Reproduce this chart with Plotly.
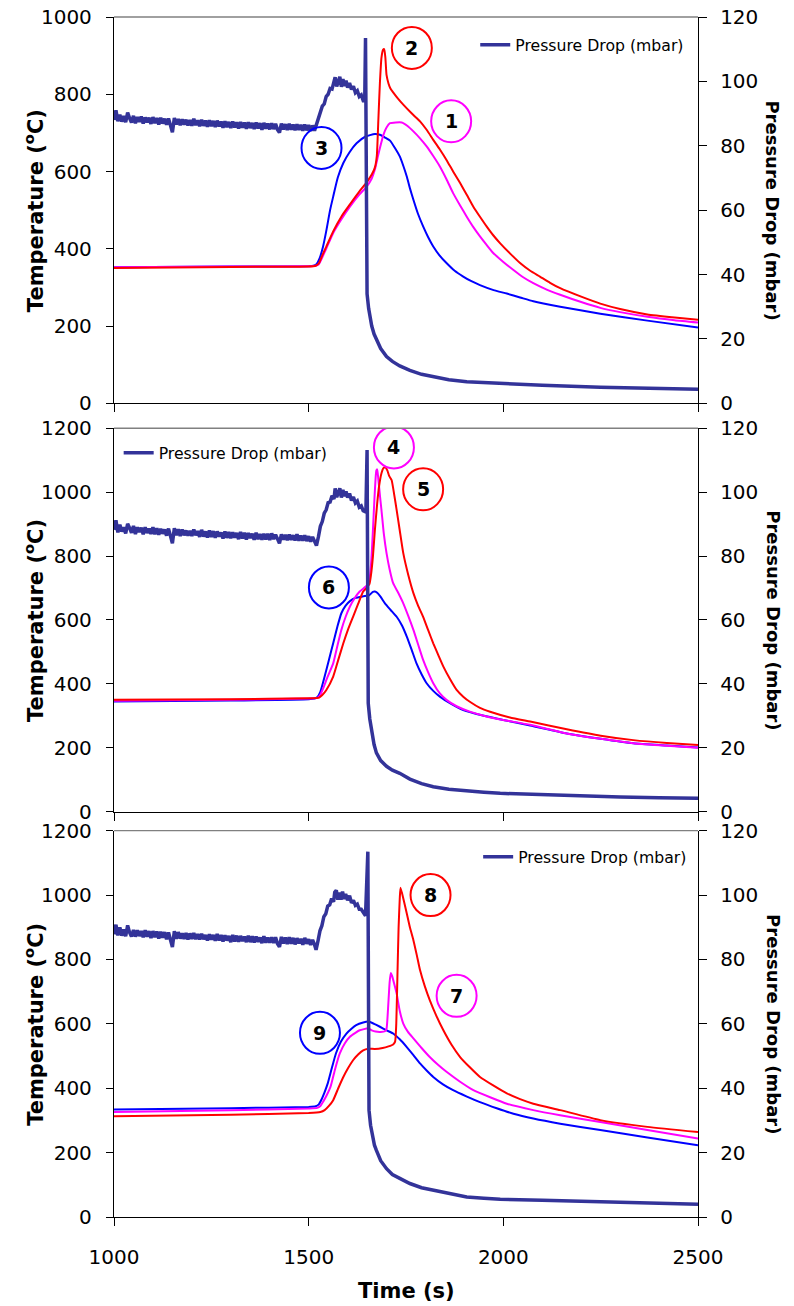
import plotly.graph_objects as go

# ---------------- DATA ----------------
x_ticks = [1000, 1500, 2000, 2500]
noise_start = 1000   # first sample of the 5-s sampled pressure baselines
noise_step = 5

# ---- Panel 1 ----
p1_press_base = [88.0, 91.0, 87.6, 89.6, 87.5, 89.2, 87.3, 90.3, 88.6, 87.2,
                 89.3, 87.0, 88.9, 87.4, 89.1, 86.9, 88.8, 87.3, 88.7, 86.8,
                 88.9, 87.0, 88.6, 86.6, 88.7, 86.9, 88.4, 86.5, 88.5, 85.9,
                 84.2, 88.6, 86.6, 88.3, 86.4, 88.2, 86.6, 88.1, 86.3, 88.0,
                 86.2, 88.4, 86.4, 87.9, 86.1, 88.1, 86.2, 87.8, 85.9, 87.9,
                 86.1, 87.7, 85.8, 87.8, 86.0, 87.5, 85.6, 87.6, 85.8, 87.4,
                 85.5, 87.5, 85.7, 87.3, 85.4, 87.4, 85.6, 87.2, 85.3, 87.3,
                 85.5, 87.1, 85.2, 87.2, 85.4, 87.0, 85.0, 87.1, 85.3, 86.9,
                 85.1, 87.0, 85.2, 86.8, 85.0, 84.1, 86.9, 85.1, 86.7, 84.9,
                 86.8, 85.0, 86.6, 84.8, 86.7, 84.9, 86.5, 84.7, 86.6, 84.8,
                 86.4, 84.6, 86.3, 84.7]
p1_press_t = [1520, 1525, 1530, 1535, 1540, 1545, 1550, 1555, 1560, 1565, 1568, 1572, 1576, 1580, 1584, 1588, 1592, 1596, 1600, 1605, 1610, 1615, 1620, 1625, 1630, 1635, 1640, 1644, 1646, 1648, 1650, 1654, 1657, 1662, 1668, 1674, 1685, 1700, 1715, 1734, 1760, 1790, 1820, 1860, 1906, 1950, 1992, 2100, 2249, 2400, 2500]
p1_press_v = [86.6, 88.6, 90.2, 92.3, 93.0, 95.3, 96.0, 97.8, 97.6, 99.5, 101.3, 98.4, 100.2, 101.4, 98.3, 100.7, 98.6, 100.2, 98.1, 99.5, 97.5, 98.5, 96.5, 97.1, 95.3, 95.8, 94.1, 94.2, 113.5, 48, 34, 29.5, 27, 24, 21.5, 19.7, 17, 14.5, 13, 11.6, 10.2, 9.0, 8.2, 7.3, 6.7, 6.4, 6.2, 5.6, 5.0, 4.6, 4.35]

p1_s1_t = [1000, 1300, 1500, 1518, 1526, 1535, 1545, 1563, 1585, 1606, 1630, 1649, 1662, 1670, 1678, 1683, 1692, 1700, 1709, 1739, 1754, 1769, 1786, 1803, 1820, 1837, 1854, 1871, 1889, 1906, 1923, 1940, 1957, 1974, 2000, 2026, 2050, 2077, 2110, 2146, 2200, 2249, 2300, 2370, 2440, 2500]
p1_s1_v = [352, 354, 355, 356, 360, 378, 400, 441, 478, 509, 540, 561, 582, 605, 640, 661, 695, 714, 725, 727, 718, 704, 686, 665, 640, 613, 580, 544, 512, 483, 456, 432, 410, 389, 366, 345, 327, 311, 295, 281, 262, 247, 236, 224, 215, 209]

p1_s2_t = [1000, 1300, 1500, 1518, 1526, 1535, 1545, 1563, 1585, 1606, 1630, 1649, 1662, 1670, 1675, 1679, 1683, 1687, 1691, 1694, 1697, 1700, 1705, 1710, 1717, 1730, 1743, 1765, 1786, 1803, 1820, 1837, 1854, 1871, 1889, 1906, 1923, 1940, 1957, 1974, 1992, 2017, 2043, 2069, 2094, 2120, 2146, 2200, 2249, 2300, 2370, 2440, 2500]
p1_s2_v = [350, 353, 354, 356, 362, 383, 405, 445, 485, 515, 548, 572, 592, 610, 640, 734, 830, 895, 915, 917, 895, 850, 828, 815, 805, 788, 773, 750, 730, 708, 682, 657, 630, 600, 570, 540, 509, 483, 458, 435, 414, 388, 363, 343, 328, 312, 298, 276, 258, 244, 230, 222, 216]

p1_s3_t = [1000, 1300, 1500, 1512, 1520, 1528, 1537, 1545, 1555, 1563, 1575, 1589, 1605, 1623, 1645, 1670, 1683, 1696, 1709, 1722, 1734, 1743, 1752, 1760, 1769, 1781, 1794, 1807, 1820, 1836, 1854, 1875, 1897, 1918, 1940, 1975, 2009, 2043, 2077, 2146, 2249, 2370, 2500]
p1_s3_v = [352, 354, 355, 356, 360, 375, 406, 445, 500, 535, 585, 622, 650, 673, 690, 697, 695, 688, 680, 660, 639, 615, 587, 557, 527, 490, 458, 430, 406, 383, 363, 343, 328, 316, 306, 293, 284, 274, 264, 250, 232, 214, 196]

# ---- Panel 2 ----
p2_press_base = [88.2, 91.2, 87.4, 89.8, 87.7, 89.0, 87.1, 90.1, 88.8, 87.3,
                 89.4, 86.9, 89.0, 87.5, 88.9, 86.8, 89.0, 87.2, 88.6, 86.9,
                 89.0, 86.8, 88.7, 86.7, 88.5, 87.0, 88.3, 86.4, 88.6, 85.8,
                 84.0, 88.7, 86.5, 88.4, 86.3, 88.3, 86.5, 88.0, 86.4, 87.9,
                 86.3, 88.3, 86.5, 87.8, 86.0, 88.2, 86.1, 87.7, 85.8, 88.0,
                 86.0, 87.8, 85.7, 87.7, 86.1, 87.4, 85.5, 87.7, 85.7, 87.5,
                 85.6, 87.4, 85.8, 87.2, 85.3, 87.5, 85.5, 87.3, 85.2, 87.2,
                 85.6, 87.0, 85.1, 87.3, 85.3, 86.9, 85.1, 87.0, 85.2, 87.0,
                 85.0, 87.1, 85.3, 86.7, 85.1, 84.0, 86.8, 85.2, 86.6, 85.0,
                 86.7, 85.1, 86.5, 84.9, 86.8, 84.8, 86.4, 84.8, 86.5, 84.7,
                 86.2, 84.5, 86.0, 84.4]
p2_press_t = [1520, 1525, 1530, 1535, 1540, 1545, 1550, 1555, 1560, 1565, 1568, 1572, 1576, 1580, 1584, 1588, 1592, 1596, 1600, 1605, 1610, 1615, 1620, 1625, 1630, 1635, 1640, 1647, 1650, 1651, 1653, 1657, 1662, 1668, 1674, 1685, 1700, 1715, 1734, 1760, 1790, 1820, 1860, 1900, 1950, 1992, 2100, 2200, 2300, 2400, 2500]
p2_press_v = [83.3, 86.0, 89.3, 90.8, 93.4, 94.5, 96.7, 96.9, 98.9, 97.8, 101.2, 98.4, 100.1, 101.2, 98.3, 100.7, 98.7, 100.2, 98.3, 99.6, 97.4, 98.5, 96.6, 97.2, 95.3, 95.7, 94.2, 93.8, 113.2, 50, 34, 29, 24.5, 21, 18.4, 16, 14.2, 13, 12, 10.2, 8.8, 7.8, 7.0, 6.5, 6.1, 5.75, 5.3, 4.9, 4.6, 4.4, 4.2]

p2_s4_t = [1000, 1300, 1500, 1522, 1530, 1538, 1548, 1563, 1574, 1584, 1595, 1606, 1618, 1631, 1645, 1652, 1657, 1661, 1665, 1669, 1672, 1674, 1676, 1679, 1683, 1687, 1693, 1700, 1708, 1717, 1730, 1743, 1756, 1769, 1782, 1794, 1807, 1820, 1837, 1854, 1880, 1914, 1957, 2000, 2069, 2163, 2250, 2334, 2420, 2500]
p2_s4_v = [347, 350, 354, 356, 366, 388, 420, 464, 520, 569, 610, 642, 668, 689, 703, 712, 735, 788, 880, 980, 1045, 1068, 1072, 1040, 990, 944, 870, 809, 758, 715, 685, 652, 612, 569, 520, 475, 436, 402, 370, 350, 330, 313, 298, 287, 272, 245, 228, 214, 206, 200]

p2_s5_t = [1000, 1300, 1500, 1527, 1535, 1545, 1563, 1576, 1589, 1601, 1614, 1627, 1640, 1650, 1656, 1660, 1665, 1670, 1676, 1681, 1687, 1692, 1697, 1702, 1707, 1713, 1720, 1726, 1734, 1743, 1756, 1769, 1781, 1794, 1807, 1820, 1833, 1846, 1863, 1880, 1897, 1914, 1940, 1966, 2017, 2069, 2163, 2250, 2334, 2420, 2500]
p2_s5_v = [350, 352, 355, 357, 365, 380, 423, 475, 527, 570, 610, 650, 689, 702, 712, 740, 798, 880, 965, 1020, 1059, 1075, 1078, 1068, 1050, 1038, 990, 944, 880, 809, 740, 684, 645, 610, 568, 527, 490, 454, 415, 381, 360, 344, 325, 313, 295, 282, 258, 238, 224, 215, 209]

p2_s6_t = [1000, 1300, 1500, 1515, 1522, 1530, 1541, 1552, 1563, 1574, 1584, 1595, 1606, 1620, 1640, 1655, 1665, 1670, 1676, 1685, 1696, 1710, 1726, 1740, 1752, 1765, 1777, 1790, 1803, 1820, 1837, 1865, 1897, 1950, 2000, 2069, 2163, 2250, 2334, 2420, 2500]
p2_s6_v = [345, 348, 352, 354, 358, 375, 423, 475, 527, 580, 621, 645, 659, 669, 674, 677, 688, 689, 685, 672, 652, 632, 610, 582, 548, 505, 464, 430, 402, 378, 360, 338, 318, 300, 287, 270, 245, 228, 214, 207, 201]

# ---- Panel 3 ----
p3_press_base = [87.8, 90.8, 87.5, 90.0, 87.4, 89.3, 87.2, 90.6, 88.4, 87.1,
                 89.2, 87.1, 89.1, 87.3, 88.8, 86.9, 89.1, 87.1, 88.8, 86.7,
                 88.8, 86.9, 88.7, 86.5, 88.6, 86.8, 88.5, 86.3, 88.4, 85.7,
                 83.9, 88.8, 86.4, 88.5, 86.5, 88.1, 86.4, 88.2, 86.2, 88.1,
                 86.4, 88.2, 86.3, 87.9, 86.2, 88.0, 86.3, 87.6, 85.9, 87.8,
                 86.2, 87.6, 85.8, 87.9, 85.9, 87.6, 85.6, 87.5, 85.9, 87.3,
                 85.4, 87.6, 85.6, 87.4, 85.5, 87.3, 85.7, 87.1, 85.4, 87.4,
                 85.4, 87.2, 85.3, 87.1, 85.5, 86.8, 85.1, 87.2, 85.2, 86.8,
                 85.2, 86.9, 85.1, 86.9, 84.9, 83.9, 87.0, 85.0, 86.8, 84.8,
                 86.9, 84.9, 86.7, 84.7, 86.6, 85.0, 86.4, 84.6, 86.7, 84.9,
                 86.3, 84.5, 86.1, 84.6]
p3_press_t = [1519, 1524, 1529, 1534, 1539, 1544, 1549, 1554, 1559, 1564, 1567, 1571, 1575, 1579, 1583, 1587, 1591, 1595, 1600, 1605, 1610, 1615, 1620, 1625, 1630, 1635, 1640, 1646, 1652, 1653, 1655, 1659, 1664, 1669, 1674, 1685, 1700, 1715, 1734, 1760, 1790, 1820, 1860, 1906, 1950, 1992, 2100, 2249, 2400, 2500]
p3_press_v = [83.0, 85.8, 88.9, 90.5, 93.3, 94.2, 96.6, 97.0, 98.9, 97.9, 100.9, 101.5, 98.6, 100.8, 98.6, 101.1, 98.8, 100.3, 98.4, 99.8, 97.6, 98.4, 96.8, 97.2, 95.6, 95.6, 94.5, 93.6, 113.5, 50, 33.2, 28.5, 24.5, 22.3, 20.7, 17.5, 15, 13.2, 12, 10.4, 9.1, 8.3, 7.2, 6.2, 5.8, 5.5, 5.2, 4.7, 4.2, 3.95]

p3_s7_t = [1000, 1300, 1500, 1522, 1530, 1538, 1545, 1556, 1568, 1580, 1593, 1606, 1620, 1631, 1653, 1662, 1672, 1685, 1696, 1700, 1704, 1708, 1711, 1714, 1719, 1726, 1734, 1743, 1755, 1769, 1790, 1811, 1833, 1854, 1888, 1923, 1966, 2009, 2077, 2146, 2249, 2370, 2500]
p3_s7_v = [326, 332, 337, 339, 345, 360, 375, 404, 460, 508, 540, 560, 572, 580, 586, 580, 576, 575, 577, 585, 650, 730, 758, 750, 728, 694, 640, 601, 575, 555, 525, 497, 472, 451, 421, 394, 372, 352, 332, 316, 295, 270, 244]

p3_s8_t = [1000, 1300, 1500, 1530, 1541, 1552, 1563, 1576, 1589, 1601, 1614, 1627, 1640, 1653, 1670, 1690, 1705, 1717, 1722, 1725, 1728, 1731, 1734, 1736, 1744, 1752, 1760, 1769, 1778, 1786, 1798, 1811, 1828, 1846, 1867, 1889, 1914, 1940, 1975, 2009, 2043, 2077, 2146, 2249, 2370, 2500]
p3_s8_v = [313, 318, 323, 326, 332, 345, 363, 400, 435, 462, 487, 505, 518, 523, 522, 525, 530, 536, 545, 600, 750, 900, 990, 1023, 985, 943, 900, 860, 812, 767, 718, 674, 625, 580, 535, 497, 465, 435, 408, 384, 366, 352, 332, 301, 280, 264]

p3_s9_t = [1000, 1300, 1500, 1518, 1526, 1533, 1540, 1549, 1560, 1570, 1583, 1597, 1610, 1622, 1640, 1653, 1668, 1683, 1700, 1717, 1734, 1752, 1769, 1786, 1803, 1820, 1845, 1871, 1905, 1940, 1983, 2026, 2077, 2146, 2249, 2370, 2500]
p3_s9_v = [334, 338, 342, 344, 350, 365, 385, 415, 465, 508, 545, 570, 585, 596, 604, 607, 600, 591, 580, 570, 552, 528, 503, 477, 455, 435, 412, 394, 375, 357, 338, 321, 306, 290, 270, 247, 223]

# Circled labels: (label, time, temperature, colour)
p1_labels = [("1", 1866, 730, "#FF00FF"), ("2", 1765, 920, "#FF0000"), ("3", 1533, 661, "#0000FF")]
p2_labels = [("4", 1719, 1140, "#FF00FF"), ("5", 1794, 1009, "#FF0000"), ("6", 1552, 702, "#0000FF")]
p3_labels = [("7", 1880, 687, "#FF00FF"), ("8", 1813, 1000, "#FF0000"), ("9", 1529, 572, "#0000FF")]


def press_series(base, t_rest, v_rest):
    t = [noise_start + noise_step * i for i in range(len(base))] + t_rest
    return t, base + v_rest


# ---------------- FIGURE ----------------
PRESS = "#333399"
FONT = "DejaVu Sans"
fig = go.Figure()

panels = [
    dict(xa="x", ya="y", pa="y2", legend="legend",
         press=press_series(p1_press_base, p1_press_t, p1_press_v),
         temps=[(p1_s3_t, p1_s3_v, "#0000FF"), (p1_s1_t, p1_s1_v, "#FF00FF"), (p1_s2_t, p1_s2_v, "#FF0000")],
         labels=p1_labels),
    dict(xa="x2", ya="y3", pa="y4", legend="legend2",
         press=press_series(p2_press_base, p2_press_t, p2_press_v),
         temps=[(p2_s6_t, p2_s6_v, "#0000FF"), (p2_s4_t, p2_s4_v, "#FF00FF"), (p2_s5_t, p2_s5_v, "#FF0000")],
         labels=p2_labels),
    dict(xa="x3", ya="y5", pa="y6", legend="legend3",
         press=press_series(p3_press_base, p3_press_t, p3_press_v),
         temps=[(p3_s9_t, p3_s9_v, "#0000FF"), (p3_s7_t, p3_s7_v, "#FF00FF"), (p3_s8_t, p3_s8_v, "#FF0000")],
         labels=p3_labels),
]

shapes = []
annotations = []
for p in panels:
    for t, v, c in p["temps"]:
        fig.add_trace(go.Scatter(x=t, y=v, mode="lines",
                                 line=dict(color=c, width=2, shape="spline", smoothing=0.5),
                                 xaxis=p["xa"], yaxis=p["ya"], showlegend=False, hoverinfo="skip"))
    fig.add_trace(go.Scatter(x=p["press"][0], y=p["press"][1], mode="lines",
                             line=dict(color=PRESS, width=3.5),
                             name="Pressure Drop (mbar)", legend=p["legend"],
                             xaxis=p["xa"], yaxis=p["pa"], showlegend=True))
    for lab, t, T, c in p["labels"]:
        shapes.append(dict(type="circle", xref=p["xa"], yref=p["ya"],
                           xsizemode="pixel", ysizemode="pixel", xanchor=t, yanchor=T,
                           x0=-20, x1=20, y0=-21, y1=21,
                           line=dict(color=c, width=2), fillcolor="rgba(0,0,0,0)"))
        annotations.append(dict(text="<b>%s</b>" % lab, x=t, y=T, xref=p["xa"], yref=p["ya"],
                                showarrow=False, font=dict(family=FONT, size=19, color="black")))

domains = [(0.6781, 1.0), (0.33775, 0.6573), (0.0, 0.3219)]
tranges = [[0, 1000], [0, 1200], [0, 1200]]

axis_common = dict(showgrid=False, zeroline=False, showline=True, linecolor="black", linewidth=1.3,
                   ticks="outside", tickcolor="black", tickwidth=1.3, automargin=False,
                   ticklabeloverflow="allow",
                   tickfont=dict(family=FONT, size=20, color="black"))

# page body adds an 8 px offset, so the figure is 8 px smaller on each axis
layout = dict(width=786, height=1298, margin=dict(l=106, r=96, t=9, b=89, autoexpand=False),
              plot_bgcolor="white", paper_bgcolor="white",
              font=dict(family=FONT, color="black"))

for i, (dom, tr) in enumerate(zip(domains, tranges)):
    xn = "xaxis" if i == 0 else "xaxis%d" % (i + 1)
    yt = 2 * i + 1
    yp = 2 * i + 2
    ytn = "yaxis" if yt == 1 else "yaxis%d" % yt
    ypn = "yaxis%d" % yp
    ytref = "y" if yt == 1 else "y%d" % yt
    xref = "x" if i == 0 else "x%d" % (i + 1)
    layout[xn] = dict(axis_common, domain=[0, 1], anchor=ytref, range=[1000, 2500],
                      tickvals=x_ticks, ticklen=8, showticklabels=(i == 2), ticklabelstandoff=14)
    layout[ytn] = dict(axis_common, domain=list(dom), anchor=xref, range=tr, dtick=200,
                       ticklen=7, ticklabelstandoff=10)
    layout[ypn] = dict(axis_common, overlaying=ytref, side="right", anchor=xref, range=[0, 120],
                       dtick=20, ticklen=8, ticklabelstandoff=9)
    shapes.append(dict(type="line", xref="paper", yref="paper", x0=0, x1=1, y0=dom[1], y1=dom[1],
                       line=dict(color="#808080", width=1.3)))
    ymid = (dom[0] + dom[1]) / 2
    annotations.append(dict(text="<b>Temperature (<sup>o</sup>C)</b>", textangle=-90,
                            xref="paper", yref="paper", x=-0.137, y=ymid, showarrow=False,
                            xanchor="center", yanchor="middle",
                            font=dict(family=FONT, size=21, color="black")))
    annotations.append(dict(text="<b>Pressure Drop (mbar)</b>", textangle=90,
                            xref="paper", yref="paper", x=1.128, y=ymid, showarrow=False,
                            xanchor="center", yanchor="middle",
                            font=dict(family=FONT, size=18, color="black")))

annotations.append(dict(text="<b>Time (s)</b>", xref="paper", yref="paper", x=0.5, y=-0.0617,
                        showarrow=False, xanchor="center", yanchor="middle",
                        font=dict(family=FONT, size=21, color="black")))

leg_common = dict(bgcolor="rgba(0,0,0,0)", font=dict(family=FONT, size=15.7, color="black"),
                  itemwidth=30, borderwidth=0)
layout["legend"] = dict(leg_common, x=0.985, y=0.9767, xanchor="right", yanchor="middle")
layout["legend2"] = dict(leg_common, x=0.008, y=0.6367, xanchor="left", yanchor="middle")
layout["legend3"] = dict(leg_common, x=0.99, y=0.30, xanchor="right", yanchor="middle")

layout["shapes"] = shapes
layout["annotations"] = annotations
fig.update_layout(**layout)
fig.write_html("out.html")
